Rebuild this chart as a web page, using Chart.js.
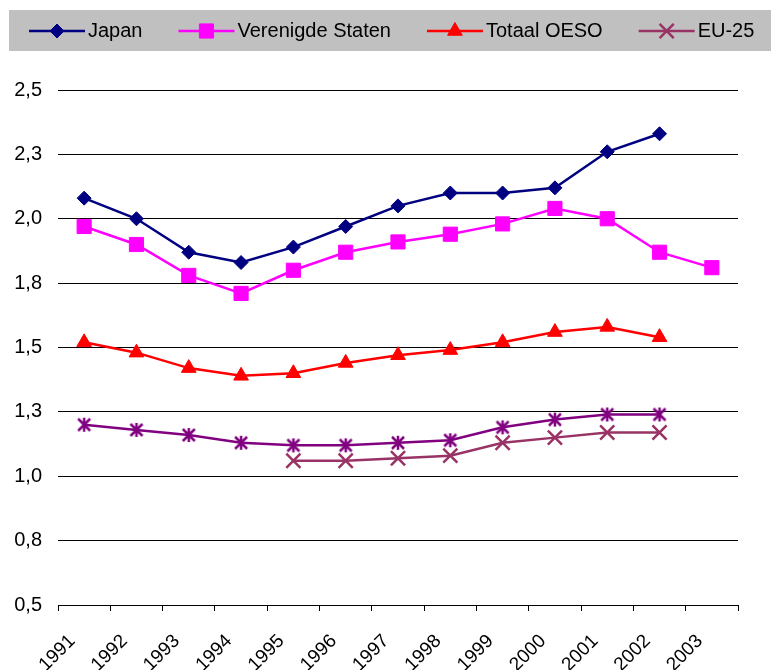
<!DOCTYPE html>
<html>
<head>
<meta charset="utf-8">
<script src="https://cdn.jsdelivr.net/npm/chart.js@4/dist/chart.umd.min.js"></script>
<style>
  html, body { margin: 0; padding: 0; background: #fff; }
  #wrap { width: 771px; height: 670px; }
</style>
</head>
<body>
<div id="wrap"><canvas id="grafiek"></canvas></div>
<script>
const jaren = ['1991', '1992', '1993', '1994', '1995', '1996', '1997', '1998', '1999', '2000', '2001', '2002', '2003'];

const japan = [2.08, 2.00, 1.87, 1.83, 1.89, 1.97, 2.05, 2.10, 2.10, 2.12, 2.26, 2.33, null];
const verenigdeStaten = [1.97, 1.90, 1.78, 1.71, 1.80, 1.87, 1.91, 1.94, 1.98, 2.04, 2.00, 1.87, 1.81];
const totaalOeso = [1.52, 1.48, 1.42, 1.39, 1.40, 1.44, 1.47, 1.49, 1.52, 1.56, 1.58, 1.54, null];
const eu25 = [null, null, null, null, 1.06, 1.06, 1.07, 1.08, 1.13, 1.15, 1.17, 1.17, null];
const eu15 = [1.20, 1.18, 1.16, 1.13, 1.12, 1.12, 1.13, 1.14, 1.19, 1.22, 1.24, 1.24, null];

const lettertype = '"Liberation Sans", Arial, sans-serif';

// sterretje zoals in Excel: kruis plus verticale streep
function maakSter(kleur) {
    const c = document.createElement('canvas');
    c.width = 16;
    c.height = 16;
    const g = c.getContext('2d');
    g.strokeStyle = kleur;
    g.lineWidth = 2.5;
    g.lineCap = 'butt';
    g.beginPath();
    g.moveTo(2, 2); g.lineTo(14, 14);
    g.moveTo(14, 2); g.lineTo(2, 14);
    g.moveTo(8, 1); g.lineTo(8, 15);
    g.stroke();
    return c;
}

function reeks(label, data, kleur, vorm, straal, vullen) {
    return {
        label: label,
        data: data,
        borderColor: kleur,
        borderWidth: 2.5,
        pointStyle: vorm,
        pointRadius: straal,
        pointHoverRadius: straal,
        pointBackgroundColor: vullen ? kleur : 'transparent',
        pointBorderColor: kleur,
        pointBorderWidth: vullen ? 1 : 2.5,
        spanGaps: false,
        tension: 0
    };
}

// grijze balk met legenda bovenaan (loopt rechts van het beeld af, zoals het origineel)
const legendaBalk = {
    id: 'legendaBalk',
    afterDraw(chart) {
        const ctx = chart.ctx;
        ctx.save();
        ctx.fillStyle = '#c0c0c0';
        ctx.fillRect(9, 10, chart.width - 9, 41);
        ctx.font = '20px ' + lettertype;
        ctx.textBaseline = 'middle';
        ctx.textAlign = 'left';
        let x = 29;
        const y = 31;
        chart.data.datasets.forEach(ds => {
            ctx.strokeStyle = ds.borderColor;
            ctx.lineWidth = ds.borderWidth;
            ctx.beginPath();
            ctx.moveTo(x, y);
            ctx.lineTo(x + 56, y);
            ctx.stroke();
            ctx.fillStyle = ds.pointBackgroundColor;
            ctx.strokeStyle = ds.pointBorderColor;
            ctx.lineWidth = ds.pointBorderWidth;
            Chart.helpers.drawPoint(ctx, {
                pointStyle: ds.pointStyle,
                radius: ds.pointRadius,
                borderWidth: ds.pointBorderWidth,
                rotation: 0
            }, x + 28, y);
            ctx.fillStyle = '#000';
            ctx.fillText(ds.label, x + 59, y);
            x += 59 + ctx.measureText(ds.label).width + 36;
        });
        ctx.restore();
    }
};

new Chart(document.getElementById('grafiek').getContext('2d'), {
    type: 'line',
    data: {
        labels: jaren,
        datasets: [
            reeks('Japan', japan, '#000080', 'rectRot', 7, true),
            reeks('Verenigde Staten', verenigdeStaten, '#ff00ff', 'rect', 10, true),
            reeks('Totaal OESO', totaalOeso, '#ff0000', 'triangle', 8.5, true),
            reeks('EU-25', eu25, '#993366', 'crossRot', 10, false),
            reeks('EU-15', eu15, '#800080', maakSter('#800080'), 7, false)
        ]
    },
    options: {
        responsive: true,
        maintainAspectRatio: false,
        animation: false,
        layout: {
            padding: { top: 90, right: 33, bottom: 0, left: 0 }
        },
        plugins: {
            legend: { display: false },
            tooltip: { enabled: false }
        },
        scales: {
            x: {
                offset: true,
                afterFit: s => { s.height = 65; },
                grid: {
                    offset: true,
                    drawOnChartArea: false,
                    color: '#000',
                    tickLength: 6
                },
                border: { display: true, color: '#000', width: 1 },
                ticks: {
                    color: '#000',
                    font: { family: lettertype, size: 19 },
                    minRotation: 45,
                    maxRotation: 45,
                    padding: 19,
                    labelOffset: -12
                }
            },
            y: {
                min: 0.5,
                max: 2.5,
                afterFit: s => { s.width = 58; },
                grid: {
                    color: '#000',
                    lineWidth: 1,
                    drawTicks: false
                },
                border: { display: false },
                ticks: {
                    stepSize: 0.25,
                    color: '#000',
                    padding: 16,
                    font: { family: lettertype, size: 20 },
                    callback: v => v.toFixed(1).replace('.', ',')
                }
            }
        }
    },
    plugins: [legendaBalk]
});
</script>
</body>
</html>
